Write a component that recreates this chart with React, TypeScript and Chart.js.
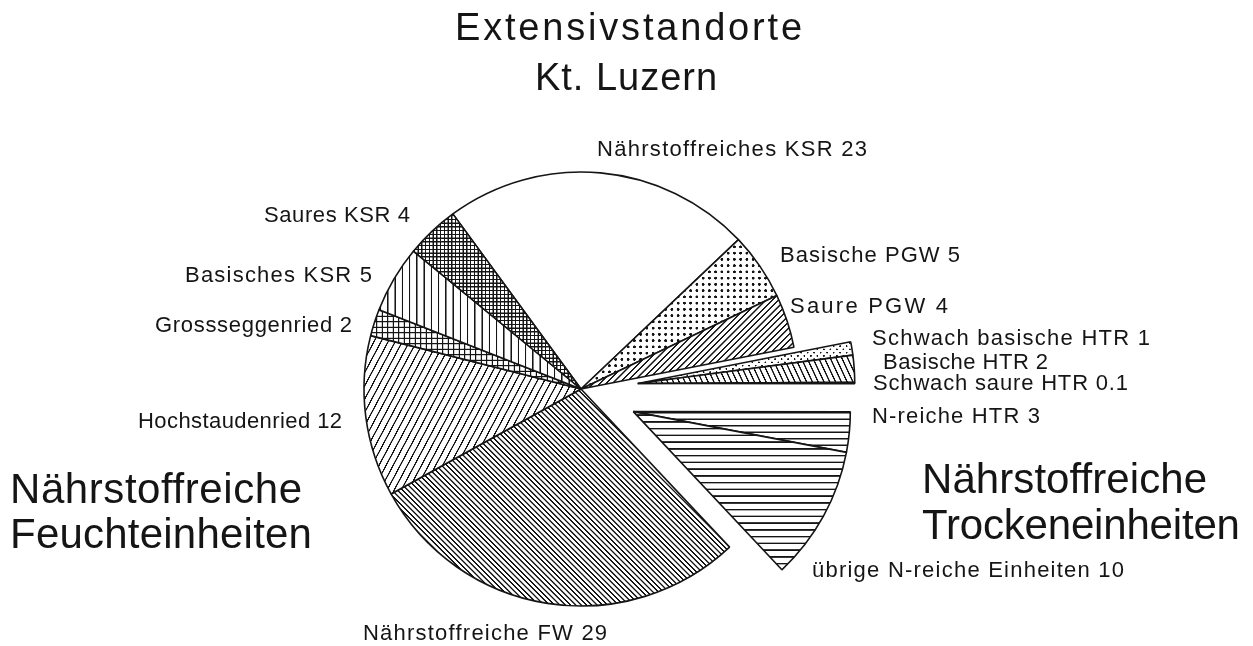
import React, { useEffect, useRef } from "react";
import { Chart, registerables } from "chart.js";

Chart.register(...registerables);

// ---------------- data ----------------
const categories = [
  "Nährstoffreiches KSR",
  "Basische PGW",
  "Saure PGW",
  "Schwach basische HTR",
  "Basische HTR",
  "Schwach saure HTR",
  "N-reiche HTR",
  "übrige N-reiche Einheiten",
  "Nährstoffreiche FW",
  "Hochstaudenried",
  "Grossseggenried",
  "Basisches KSR",
  "Saures KSR",
];
const values = [23, 5, 4, 1, 2, 0.1, 3, 10, 29, 12, 2, 5, 4];
const explodedGroups = [
  [3, 4, 5],
  [6, 7],
];
const titleLines = ["Extensivstandorte", "Kt. Luzern"];
const groupTitleLeft = ["Nährstoffreiche", "Feuchteinheiten"];
const groupTitleRight = ["Nährstoffreiche", "Trockeneinheiten"];

// ---------------- layout & style ----------------
const W = 1253;
const H = 646;
const FONT = '"Liberation Sans", Arial, Helvetica, sans-serif';
const INK = "#151515";
const CENTER_X = 581;
const CENTER_Y = 389;
const RADIUS = 217;
const EXPLODE = 57;
const ROTATION = -36.2; // degrees, chart.js rotation (0 = top)

// per category: [left x, baseline y, fitted width]
const labelLayout: [number, number, number][] = [
  [597, 156, 270],
  [780, 262, 180],
  [790, 313, 158],
  [872, 345, 278],
  [883, 369, 165],
  [873, 390, 255],
  [872, 423, 168],
  [812, 577, 312],
  [363, 640, 244],
  [138, 428, 204],
  [155, 332, 197],
  [185, 282, 187],
  [264, 222, 146],
];
const LABEL_SIZE = 22;
const titleLayout: [number, number, number][] = [
  [455, 40, 347],
  [535, 90, 182],
];
const TITLE_SIZE = 38;
const groupLeftLayout: [number, number, number][] = [
  [10, 503, 292],
  [10, 548, 302],
];
const groupRightLayout: [number, number, number][] = [
  [922, 493, 285],
  [922, 539, 318],
];
const GROUP_SIZE = 42;

type Fill =
  | { kind: "solid"; color: string }
  | { kind: "lines"; spacing: number; angle: number; lw: number }
  | { kind: "grid"; spacing: number; lw: number }
  | { kind: "dots"; spacing: number; r: number; stagger: boolean };

const fills: Fill[] = [
  { kind: "solid", color: "#ffffff" },
  { kind: "dots", spacing: 6.2, r: 1.45, stagger: false },
  { kind: "lines", spacing: 4.4, angle: 45, lw: 1.4 },
  { kind: "dots", spacing: 3.2, r: 0.9, stagger: true },
  { kind: "lines", spacing: 5.2, angle: -25, lw: 1.4 },
  { kind: "solid", color: "#222222" },
  { kind: "lines", spacing: 6.5, angle: 90, lw: 1.5 },
  { kind: "lines", spacing: 6.7, angle: 90, lw: 1.6 },
  { kind: "lines", spacing: 3.8, angle: -45, lw: 1.4 },
  { kind: "lines", spacing: 6.3, angle: 28, lw: 1.3 },
  { kind: "grid", spacing: 5.5, lw: 1.2 },
  { kind: "lines", spacing: 7.3, angle: 0, lw: 1.3 },
  { kind: "grid", spacing: 3.8, lw: 1.25 },
];

function makePattern(ctx: CanvasRenderingContext2D, f: Fill): any {
  if (f.kind === "solid") return f.color;
  const S = 4;
  const tile = document.createElement("canvas");
  const t = tile.getContext("2d")!;
  const size = Math.max(2, Math.round(f.spacing * S));
  let angle = 0;
  if (f.kind === "lines") {
    tile.width = size;
    tile.height = size;
    t.fillStyle = "#fff";
    t.fillRect(0, 0, size, size);
    t.fillStyle = INK;
    const lw = f.lw * S;
    t.fillRect(size / 2 - lw / 2, 0, lw, size);
    angle = f.angle;
  } else if (f.kind === "grid") {
    tile.width = size;
    tile.height = size;
    t.fillStyle = "#fff";
    t.fillRect(0, 0, size, size);
    t.fillStyle = INK;
    const lw = f.lw * S;
    t.fillRect(size / 2 - lw / 2, 0, lw, size);
    t.fillRect(0, size / 2 - lw / 2, size, lw);
  } else {
    const tw = f.stagger ? size * 2 : size;
    tile.width = tw;
    tile.height = tw;
    t.fillStyle = "#fff";
    t.fillRect(0, 0, tw, tw);
    t.fillStyle = INK;
    const r = f.r * S;
    t.beginPath();
    t.arc(size / 2, size / 2, r, 0, Math.PI * 2);
    if (f.stagger) {
      t.moveTo(size * 1.5 + r, size * 1.5);
      t.arc(size * 1.5, size * 1.5, r, 0, Math.PI * 2);
    }
    t.fill();
  }
  const p = ctx.createPattern(tile, "repeat")!;
  if ((p as any).setTransform) {
    const m = new DOMMatrix().rotateSelf(angle).scaleSelf(1 / S, 1 / S);
    p.setTransform(m);
  }
  return p;
}

function fmt(v: number) {
  return String(v);
}

function drawFitted(
  ctx: CanvasRenderingContext2D,
  text: string,
  x: number,
  y: number,
  size: number,
  width: number
) {
  ctx.font = `${size}px ${FONT}`;
  (ctx as any).letterSpacing = "0px";
  const w = ctx.measureText(text).width;
  const n = Array.from(text).length;
  const ls = n > 1 ? (width - w) / (n - 1) : 0;
  (ctx as any).letterSpacing = `${ls.toFixed(2)}px`;
  ctx.fillText(text, x, y);
  (ctx as any).letterSpacing = "0px";
}

const shiftFor = (meta: any) => {
  const shifts: { i: number; dx: number; dy: number }[] = [];
  explodedGroups.forEach((group) => {
    const arcs = group.map((i) => meta.data[i]).filter(Boolean);
    if (!arcs.length) return;
    const start = Math.min(...arcs.map((a: any) => a.startAngle));
    const end = Math.max(...arcs.map((a: any) => a.endAngle));
    const mid = (start + end) / 2;
    group.forEach((i) =>
      shifts.push({ i, dx: Math.cos(mid) * EXPLODE, dy: Math.sin(mid) * EXPLODE })
    );
  });
  return shifts;
};

const explodePlugin = {
  id: "explodeGroups",
  beforeDatasetDraw(chart: any, args: any) {
    const meta = args.meta;
    const shifts = shiftFor(meta);
    (chart as any).$explodeShifts = shifts;
    shifts.forEach(({ i, dx, dy }) => {
      meta.data[i].x += dx;
      meta.data[i].y += dy;
    });
  },
  afterDatasetDraw(chart: any, args: any) {
    const meta = args.meta;
    const shifts = (chart as any).$explodeShifts || [];
    shifts.forEach(({ i, dx, dy }: any) => {
      meta.data[i].x -= dx;
      meta.data[i].y -= dy;
    });
  },
};

const labelPlugin = {
  id: "freeLabels",
  afterDraw(chart: any) {
    const ctx: CanvasRenderingContext2D = chart.ctx;
    ctx.save();
    ctx.fillStyle = INK;
    ctx.textAlign = "left";
    ctx.textBaseline = "alphabetic";
    categories.forEach((c, i) => {
      const [x, y, w] = labelLayout[i];
      drawFitted(ctx, `${c} ${fmt(values[i])}`, x, y, LABEL_SIZE, w);
    });
    titleLines.forEach((t, i) => {
      const [x, y, w] = titleLayout[i];
      drawFitted(ctx, t, x, y, TITLE_SIZE, w);
    });
    groupTitleLeft.forEach((t, i) => {
      const [x, y, w] = groupLeftLayout[i];
      drawFitted(ctx, t, x, y, GROUP_SIZE, w);
    });
    groupTitleRight.forEach((t, i) => {
      const [x, y, w] = groupRightLayout[i];
      drawFitted(ctx, t, x, y, GROUP_SIZE, w);
    });
    ctx.restore();
  },
};

export default function App() {
  const ref = useRef<HTMLCanvasElement>(null);
  useEffect(() => {
    const canvas = ref.current!;
    const ctx = canvas.getContext("2d")!;
    const bg = fills.map((f) => makePattern(ctx, f));
    const chart = new Chart(canvas, {
      type: "pie",
      data: {
        labels: categories,
        datasets: [
          {
            data: values,
            backgroundColor: bg,
            borderColor: INK,
            borderWidth: 1.6,
            radius: RADIUS,
          } as any,
        ],
      },
      options: {
        responsive: false,
        animation: false,
        events: [],
        rotation: ROTATION,
        layout: {
          padding: {
            left: CENTER_X - RADIUS,
            right: W - (CENTER_X + RADIUS),
            top: CENTER_Y - RADIUS,
            bottom: H - (CENTER_Y + RADIUS),
          },
        },
        plugins: {
          legend: { display: false },
          tooltip: { enabled: false },
          title: { display: false },
        },
      } as any,
      plugins: [explodePlugin, labelPlugin],
    });
    return () => chart.destroy();
  }, []);
  return (
    <div
      style={{
        position: "fixed",
        left: 0,
        top: 0,
        width: W,
        height: H,
        background: "#fff",
      }}
    >
      <canvas ref={ref} width={W} height={H} style={{ display: "block", width: W, height: H }} />
    </div>
  );
}
